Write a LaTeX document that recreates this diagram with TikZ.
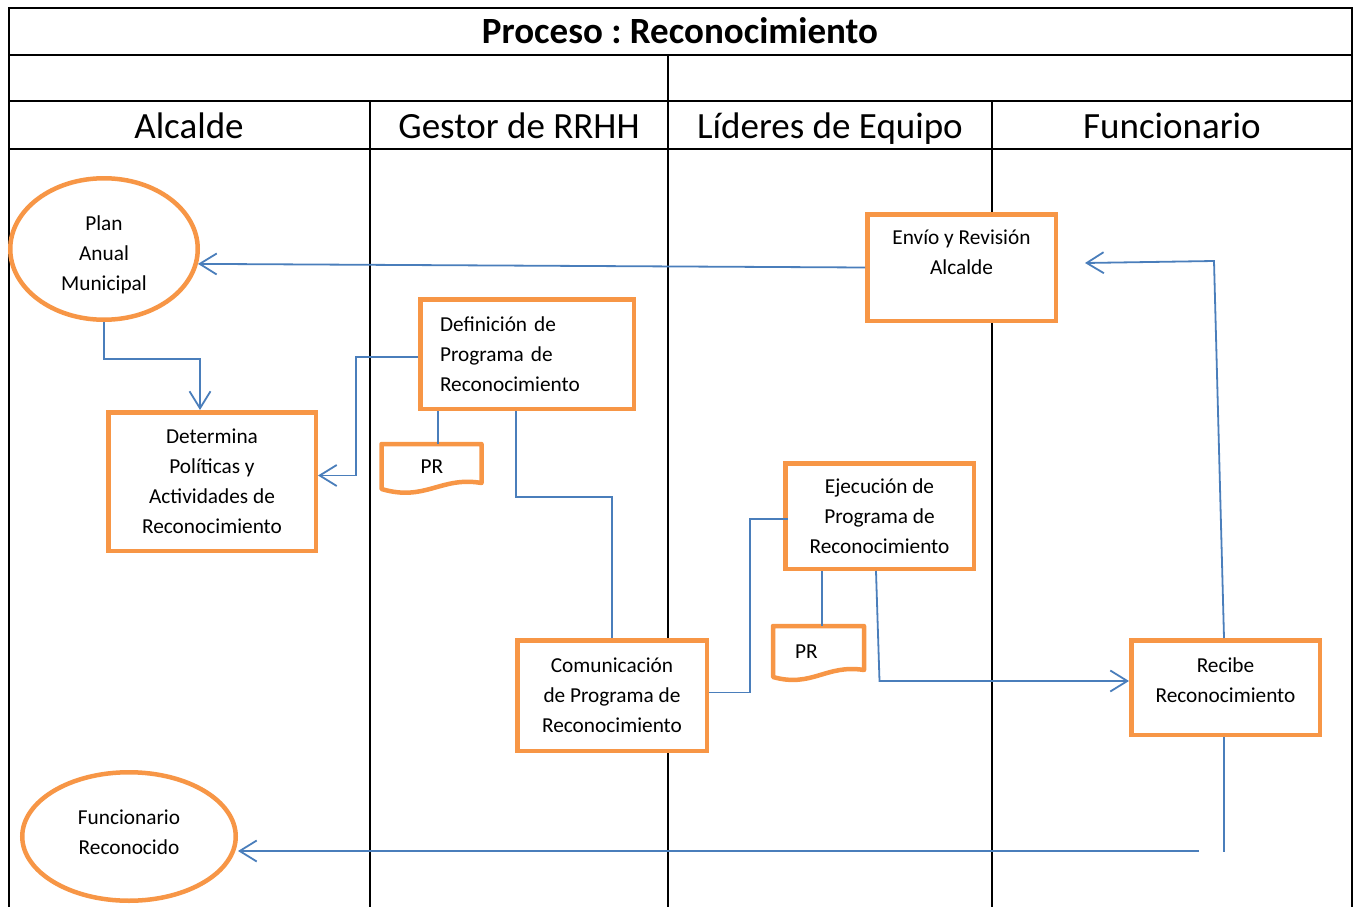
\documentclass[tikz,border=0pt]{standalone}
\usepackage{fontspec}
\setmainfont{Carlito}
\usetikzlibrary{arrows.meta,shapes.geometric}
\frenchspacing

\definecolor{boxorange}{HTML}{F79646}
\definecolor{lineblue}{HTML}{4A7EBB}

\begin{document}
\begin{tikzpicture}
[x=1pt,y=-1pt,
  framedecorate/.style={draw=black,line width=2pt},%
  titledecorate/.style={anchor=base,font=\bfseries\fontsize{37}{44}\selectfont},%
  headdecorate/.style={anchor=base,font=\fontsize{37}{44}\selectfont},%
  boxdecorate/.style={shape=rectangle,draw=boxorange,fill=white,line width=4.5pt,inner sep=0pt,align=center,font=\fontsize{21.3}{30}\selectfont},%
  ovaldecorate/.style={shape=ellipse,draw=boxorange,fill=white,line width=4.5pt,inner sep=0pt,align=center,font=\fontsize{21.3}{30}\selectfont},%
  docdecorate/.style={shape=rectangle,inner sep=0pt,font=\fontsize{21.3}{30}\selectfont},%
  doclinedecorate/.style={draw=boxorange,fill=white,line width=4.5pt,line join=round},%
  linedecorate/.style={-,draw=lineblue,line width=1.8pt},%
  arrowdecorate/.style={linedecorate,-{Straight Barb[length=17pt,width=21pt]}}]
\useasboundingbox (0,0) rectangle (1353,907);
%% table of the lanes
\draw[framedecorate] (9,907) -- (9,8) -- (1352,8) -- (1352,907);
\draw[framedecorate] (9,55) -- (1352,55) (9,101) -- (1352,101) (9,149) -- (1352,149);
\draw[framedecorate] (668,55) -- (668,907) (370,101) -- (370,907) (992,101) -- (992,907);
\node (titulo) at (680,44) [titledecorate] {Proceso : Reconocimiento};
\foreach \nodename/\x/\txt in {
alcalde/189/Alcalde, gestor/519/Gestor de RRHH, lideres/830/Líderes de Equipo, funcionario/1172/Funcionario}
{
  \node (\nodename) at (\x,138) [headdecorate] {\txt};
}
%% start and end of the process
\foreach \nodename/\x/\y/\w/\h/\txt in {
plan/104/249/187.5/141.5/{\rule{0pt}{27pt}Plan\\Anual\\Municipal},
funcrec/129/836.5/213.5/128.5/{Funcionario\\Reconocido\\[-21pt]\mbox{}}}
{
  \node (\nodename) at (\x,\y) [ovaldecorate,minimum width=\w pt,minimum height=\h pt] {\txt};
}
%% activities
\foreach \nodename/\x/\y/\w/\h/\txt in {
determina/212/481.5/207.5/138.5/{Determina\\Políticas y\\Actividades de\\Reconocimiento},
comunicacion/612/695.5/189.5/110.5/{Comunicación\\de Programa de\\Reconocimiento},
ejecucion/879.5/516/188.5/105.5/{Ejecución de\\Programa de\\Reconocimiento},
envio/961.5/267.5/188.5/106.5/{Envío y Revisión\\Alcalde\\\mbox{}},
recibe/1225.5/687.5/188.5/94.5/{Recibe\\Reconocimiento\\[-15pt]\mbox{}}}
{
  \node (\nodename) at (\x,\y) [boxdecorate,minimum width=\w pt,minimum height=\h pt] {\txt};
}
\node (definicion) at (527,354) [boxdecorate,minimum width=213.5pt,minimum height=109.5pt,text width=174pt,align=left]
  {Definición de\\Programa de\\Reconocimiento};
%% documents
\draw[doclinedecorate] (381.5,444) -- (481.5,444) -- (481.5,483) .. controls (440.5,476) and (425.5,502) .. (381.5,489) -- cycle;
\draw[doclinedecorate] (773,626) -- (864,626) -- (864,670) .. controls (826,664) and (812,688) .. (773,677) -- cycle;
\node (pr1) at (432,466.5) [docdecorate,minimum width=98pt,minimum height=45pt] {PR};
\node (pr2) at (818.5,651.5) [docdecorate,minimum width=91pt,minimum height=51pt,text width=47pt,align=left] {PR};
%% connectors
\draw[arrowdecorate] (envio.west) -- (plan.-9);
\draw[arrowdecorate] (plan.south) -- ++(0,37) -| ([xshift=-12pt]determina.north);
\draw[arrowdecorate] ([yshift=-3pt]definicion.west) -- ++(-62,0) |- ([yshift=6pt]determina.east);
\draw[linedecorate] ([xshift=-89pt]definicion.south) -- ([xshift=-89pt]definicion.south |- pr1.north);
\draw[linedecorate] ([xshift=-11pt]definicion.south) -- ++(0,86) -| (comunicacion.north);
\draw[linedecorate] ([yshift=3pt]comunicacion.east) -- ++(41,0) |- ([xshift=5pt,yshift=-3pt]ejecucion.west);
\draw[linedecorate] ([xshift=-57.5pt]ejecucion.south) -- ([xshift=-57.5pt]ejecucion.south |- pr2.north);
\draw[arrowdecorate] ([xshift=-3.5pt]ejecucion.south) -- ([yshift=6.5pt]recibe.west -| ejecucion.south) -- ([yshift=6.5pt]recibe.west);
\draw[arrowdecorate] ([xshift=-1.5pt]recibe.north) -- ++(-10,-377) -- ([xshift=27pt,yshift=4.5pt]envio.east);
\draw[linedecorate] ([xshift=-1.5pt]recibe.south) -- ++(0,115);
\coordinate (gapend) at (1199,851);
\draw[arrowdecorate] (gapend) -- (gapend -| funcrec.east);
\end{tikzpicture}
\end{document}
